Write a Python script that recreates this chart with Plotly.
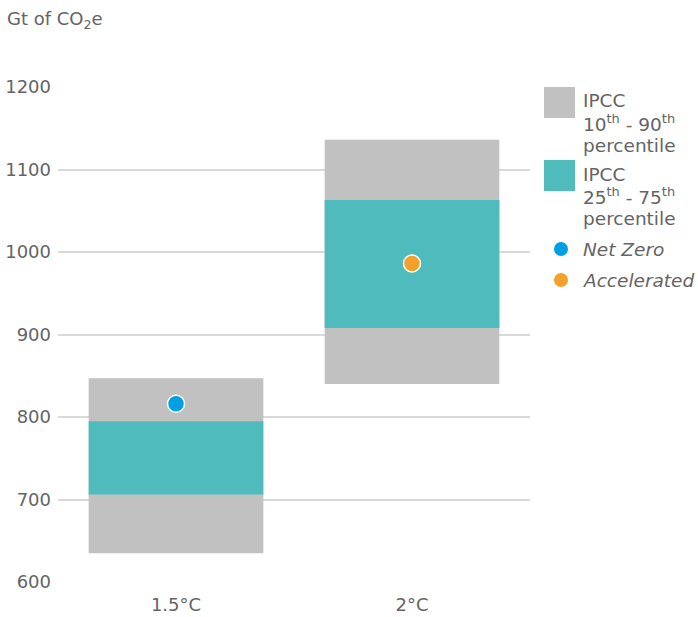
import plotly.graph_objects as go

categories = ["1.5°C", "2°C"]
p10 = [635, 840]
p90 = [847, 1136]
p25 = [706, 908]
p75 = [795, 1063]
net_zero = [816, None]
accelerated = [None, 986]
y_ticks = [600, 700, 800, 900, 1000, 1100, 1200]

GRAY = "#c1c1c1"
TEAL = "#50bbbd"
BLUE = "#009fe3"
ORANGE = "#f5a02a"
TXT = "#646464"
FONT = "DejaVu Sans"
FS = 18
FSL = 18.5
FW = 400

W, H = 698, 617
L, R, T, B = 58, 168, 87, 35
pw, ph = W - L - R, H - T - B

def px(x):
    return (x - L) / pw

def py(y):
    return (H - B - y) / ph

fig = go.Figure()
fig.add_trace(go.Bar(x=categories, y=[a - b for a, b in zip(p90, p10)], base=p10,
                     marker=dict(color=GRAY, line=dict(width=0)), width=0.74,
                     showlegend=False, hoverinfo="skip"))
fig.add_trace(go.Bar(x=categories, y=[a - b for a, b in zip(p75, p25)], base=p25,
                     marker=dict(color=TEAL, line=dict(width=0)), width=0.74,
                     showlegend=False, hoverinfo="skip"))
fig.add_trace(go.Scatter(x=categories, y=net_zero, mode="markers",
                         marker=dict(color=BLUE, size=17, line=dict(color="white", width=1.5)),
                         showlegend=False))
fig.add_trace(go.Scatter(x=categories, y=accelerated, mode="markers",
                         marker=dict(color=ORANGE, size=17, line=dict(color="white", width=1.5)),
                         showlegend=False))

shapes = [
    dict(type="rect", xref="paper", yref="paper", x0=px(544), x1=px(575), y0=py(118), y1=py(87),
         fillcolor=GRAY, line=dict(width=0)),
    dict(type="rect", xref="paper", yref="paper", x0=px(544), x1=px(575), y0=py(191), y1=py(160),
         fillcolor=TEAL, line=dict(width=0)),
    dict(type="circle", xref="paper", yref="paper", x0=px(554), x1=px(568), y0=py(256), y1=py(242),
         fillcolor=BLUE, line=dict(width=0)),
    dict(type="circle", xref="paper", yref="paper", x0=px(554), x1=px(568), y0=py(287), y1=py(273),
         fillcolor=ORANGE, line=dict(width=0)),
]

def txt(text, x, y, size=FSL):
    return dict(text=text, xref="paper", yref="paper", x=px(x), y=py(y), xanchor="left",
                yanchor="middle", align="left", showarrow=False,
                font=dict(size=size, color=TXT, family=FONT, weight=FW))

annotations = [
    txt("Gt of CO<sub>2</sub>e", 5, 20, FS),
    txt("IPCC", 581, 101),
    txt("10<sup>th</sup> - 90<sup>th</sup>", 581, 123),
    txt("percentile", 581, 145),
    txt("IPCC", 581, 174),
    txt("25<sup>th</sup> - 75<sup>th</sup>", 581, 196),
    txt("percentile", 581, 218),
    txt("<i>Net Zero</i>", 581, 249),
    txt("<i>Accelerated</i>", 581, 280),
]

fig.update_layout(
    width=W, height=H, margin=dict(l=L, r=R, t=T, b=B),
    paper_bgcolor="white", plot_bgcolor="white",
    barmode="overlay", showlegend=False,
    shapes=shapes, annotations=annotations,
    font=dict(family=FONT, size=FS, color=TXT, weight=FW),
    xaxis=dict(showgrid=False, showline=False, ticks="", automargin=False, ticklabelstandoff=10,
               tickfont=dict(size=FS, color=TXT, family=FONT, weight=FW)),
    yaxis=dict(range=[600, 1200], tickvals=y_ticks, showgrid=True, gridcolor="#d9d9d9", gridwidth=1.5,
               zeroline=False, ticks="", automargin=False, ticklabelstandoff=6,
               tickfont=dict(size=FS, color=TXT, family=FONT, weight=FW)),
)

fig.write_html("out.html", config={"displayModeBar": False},
               post_script="document.body.style.margin='0';")
